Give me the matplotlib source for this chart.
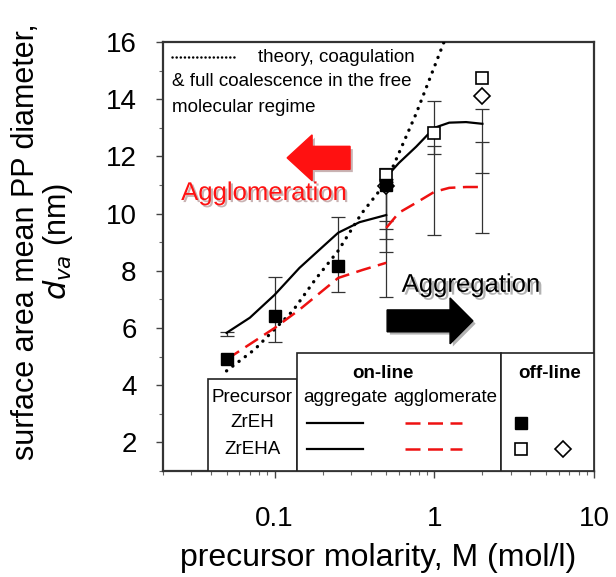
import matplotlib

matplotlib.use("Agg")
import matplotlib.pyplot as plt
import matplotlib.patheffects as pe
import numpy as np
from matplotlib.patches import FancyArrow, Rectangle
from matplotlib.lines import Line2D
from matplotlib.ticker import MultipleLocator

plt.rcParams["font.family"] = ["Liberation Sans", "DejaVu Sans"]

# off-line measurements (filled: ZrEH, open: ZrEHA)
zreh_x = [0.05, 0.1, 0.25, 0.5]
zreh_y = [4.9, 6.43, 8.18, 11.0]
zreha_sq_x = [0.5, 1.0, 2.0]
zreha_sq_y = [11.35, 12.83, 14.75]
zreha_dia_x = [0.5, 2.0]
zreha_dia_y = [10.95, 14.1]

# error bars (low / high ends)
eb_x = [0.05, 0.1, 0.25, 0.5, 0.5, 0.5, 0.5, 1.0, 1.0, 2.0, 2.0]
eb_lo = [5.72, 5.52, 7.26, 7.09, 8.66, 9.12, 9.47, 9.26, 12.09, 9.33, 11.42]
eb_hi = [5.86, 7.79, 9.88, 11.6, 11.2, 11.1, 9.75, 13.95, 12.37, 13.66, 12.5]

# on-line, aggregate (solid black)
agg1_x = [0.05, 0.07, 0.1, 0.143, 0.2, 0.25, 0.34, 0.5]
agg1_y = [5.83, 6.36, 7.16, 8.1, 8.84, 9.33, 9.7, 9.95]
agg2_x = [0.5, 0.6, 0.77, 1.0, 1.24, 1.58, 2.0]
agg2_y = [11.28, 11.77, 12.34, 13.0, 13.18, 13.2, 13.14]

# on-line, agglomerate (red dashed)
aggl1_x = [0.05, 0.1, 0.143, 0.25, 0.355, 0.5]
aggl1_y = [4.9, 6.0, 6.64, 7.75, 8.03, 8.28]
aggl2_x = [0.5, 0.6, 0.77, 1.0, 1.24, 1.58, 2.0]
aggl2_y = [9.5, 10.03, 10.38, 10.76, 10.9, 10.93, 10.93]

# theory line (dotted)
theory_x = [0.05, 0.075, 0.13, 0.18, 0.25, 0.35, 0.5, 0.77, 1.15]
theory_y = [4.5, 5.25, 6.6, 7.7, 8.7, 10.0, 11.1, 13.5, 16.0]

fig = plt.figure(figsize=(6.16, 5.77), dpi=100)
ax = fig.add_axes([0.2646, 0.1837, 0.6997, 0.7435])

ax.plot(theory_x, theory_y, color="black", linestyle=(0, (0.05, 2.3)), lw=2.4,
        dash_capstyle="round", solid_capstyle="round", zorder=3)
ax.plot(agg1_x, agg1_y, color="black", lw=1.6, zorder=3)
ax.plot(agg2_x, agg2_y, color="black", lw=1.6, zorder=3)
ax.plot(aggl1_x, aggl1_y, color="#ee1111", lw=1.8, dashes=(6, 3), zorder=3)
ax.plot(aggl2_x, aggl2_y, color="#ee1111", lw=1.8, dashes=(6, 3), zorder=3)

eb_lo = np.array(eb_lo)
eb_hi = np.array(eb_hi)
ax.errorbar(eb_x, (eb_lo + eb_hi) / 2, yerr=(eb_hi - eb_lo) / 2, fmt="none",
            ecolor="#333333", elinewidth=0.9, capsize=5, capthick=0.9, zorder=2)

ax.plot(zreha_dia_x, zreha_dia_y, "D", ms=8, mfc="white", mec="black", mew=1.2, zorder=4)
ax.plot(zreha_sq_x, zreha_sq_y, "s", ms=9, mfc="white", mec="black", mew=1.2, zorder=4)
ax.plot(zreh_x, zreh_y, "s", ms=8.5, color="black", zorder=5)

ax.set_xscale("log")
ax.set_xlim(0.02, 10)
ax.set_ylim(1, 16)
ax.set_yticks([2, 4, 6, 8, 10, 12, 14, 16])
ax.yaxis.set_minor_locator(MultipleLocator(1))
ax.set_xticks([0.1, 1, 10])
ax.set_xticklabels(["0.1", "1", "10"])
ax.tick_params(axis="both", which="major", labelsize=20, length=5, width=1, color="#444444")
ax.tick_params(axis="y", which="major", pad=14)
ax.tick_params(axis="x", which="major", pad=20)
ax.tick_params(axis="both", which="minor", length=3, width=0.8, color="#666666")
for s in ax.spines.values():
    s.set_linewidth(1.6)
    s.set_color("#333333")

ax.set_xlabel("precursor molarity, M (mol/l)", fontsize=23, labelpad=8)
ax.set_ylabel("surface area mean PP diameter,\n$d_{va}$ (nm)", fontsize=22,
              linespacing=1.0)
ax.yaxis.set_label_coords(-0.205, 0.535)

# theory legend text
ax.add_line(Line2D([0.021, 0.175], [0.965, 0.965], transform=ax.transAxes,
                   color="black", lw=1.8, linestyle=(0, (0.05, 1.6)),
                   dash_capstyle="round"))
tfs = 13.5
ax.text(0.22, 0.965, "theory, coagulation", transform=ax.transAxes,
        fontsize=tfs, va="center", ha="left")
ax.text(0.021, 0.907, "& full coalescence in the free", transform=ax.transAxes,
        fontsize=tfs, va="center", ha="left")
ax.text(0.021, 0.848, "molecular regime", transform=ax.transAxes,
        fontsize=tfs, va="center", ha="left")

# arrows
shadow = [pe.SimplePatchShadow(offset=(2, -2), alpha=0.3), pe.Normal()]
ax.add_patch(FancyArrow(0.434, 0.730, -0.146, 0, width=0.0536, head_width=0.107,
                        head_length=0.058, length_includes_head=True,
                        color="#ff1111", transform=ax.transAxes, zorder=6,
                        path_effects=shadow))
ax.add_patch(FancyArrow(0.520, 0.350, 0.199, 0, width=0.051, head_width=0.107,
                        head_length=0.053, length_includes_head=True,
                        color="black", transform=ax.transAxes, zorder=6,
                        path_effects=shadow))
ax.text(0.235, 0.648, "Agglomeration", transform=ax.transAxes, fontsize=18.5,
        color="#ff1111", ha="center", va="center",
        path_effects=[pe.withSimplePatchShadow(offset=(1.5, -1.5), alpha=0.3)])
ax.text(0.715, 0.434, "Aggregation", transform=ax.transAxes, fontsize=18.5,
        color="black", ha="center", va="center",
        path_effects=[pe.withSimplePatchShadow(offset=(2, -2), alpha=0.3)])

# legend table
for x0, x1, top in [(0.104, 0.311, 0.214), (0.311, 0.784, 0.275), (0.784, 1.0, 0.275)]:
    ax.add_patch(Rectangle((x0, 0), x1 - x0, top, transform=ax.transAxes,
                           facecolor="white", edgecolor="#222222", lw=1.2, zorder=7))

tkw = dict(transform=ax.transAxes, fontsize=13.5, ha="center", va="center", zorder=8)
ax.text(0.510, 0.228, "on-line", fontweight="bold", **tkw)
ax.text(0.898, 0.228, "off-line", fontweight="bold", **tkw)
ax.text(0.207, 0.172, "Precursor", **tkw)
ax.text(0.422, 0.172, "aggregate", **tkw)
ax.text(0.654, 0.172, "agglomerate", **tkw)
ax.text(0.207, 0.112, "ZrEH", **tkw)
ax.text(0.207, 0.051, "ZrEHA", **tkw)
for yy in [0.112, 0.051]:
    ax.add_line(Line2D([0.334, 0.464], [yy, yy], transform=ax.transAxes,
                       color="black", lw=1.6, zorder=8))
    ax.add_line(Line2D([0.561, 0.694], [yy, yy], transform=ax.transAxes,
                       color="#ee1111", lw=1.8, dashes=(6, 3), zorder=8))
ax.plot([0.831], [0.112], "s", ms=8.5, color="black", transform=ax.transAxes,
        zorder=8, clip_on=False)
ax.plot([0.831], [0.051], "s", ms=8.5, mfc="white", mec="black", mew=1.2,
        transform=ax.transAxes, zorder=8, clip_on=False)
ax.plot([0.928], [0.051], "D", ms=8, mfc="white", mec="black", mew=1.2,
        transform=ax.transAxes, zorder=8, clip_on=False)

fig.savefig("out.png", dpi=100)
